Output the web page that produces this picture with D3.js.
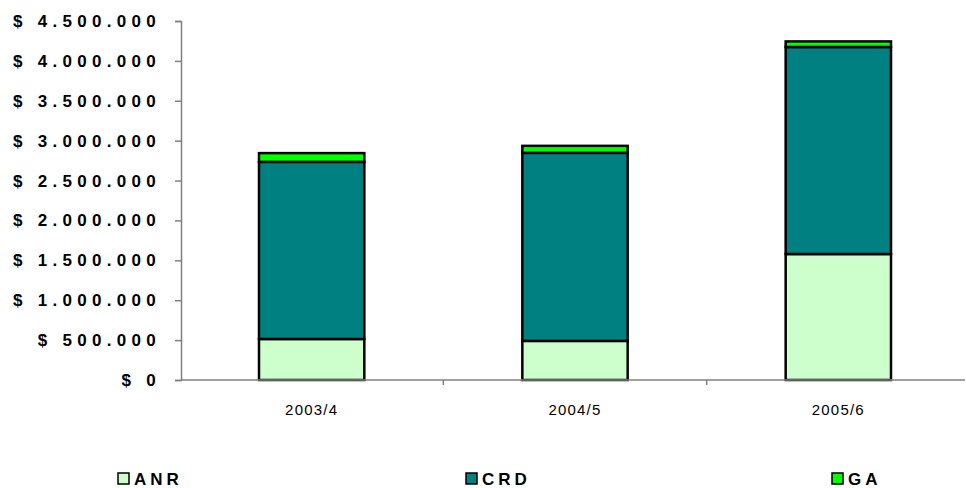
<!DOCTYPE html>
<html>
<head>
<meta charset="utf-8">
<script src="https://cdn.jsdelivr.net/npm/d3@7"></script>
<style>
  body { margin: 0; background: #fff; }
  svg { display: block; font-family: "Liberation Sans", Arial, sans-serif; }
</style>
</head>
<body>
<div id="chart"></div>
<script>
// Datos
const categories = ['2003/4', '2004/5', '2005/6'];
const seriesNames = ['ANR', 'CRD', 'GA'];
const anrValues = [514000, 490000, 1579000];
const crdValues = [2220000, 2357000, 2595000];
const gaValues = [110000, 88000, 70000];
const yTicks = [0, 500000, 1000000, 1500000, 2000000, 2500000, 3000000, 3500000, 4000000, 4500000];

const colors = { ANR: '#ccffcc', CRD: '#008080', GA: '#00ff00' };

const width = 966, height = 488;
const margin = { top: 21, left: 181, bottom: 108 };

const svg = d3.select('#chart').append('svg')
    .attr('width', width)
    .attr('height', height);

// Tabla para el apilado
const table = categories.map((c, i) => ({
    cat: c, ANR: anrValues[i], CRD: crdValues[i], GA: gaValues[i]
}));
const stacked = d3.stack().keys(seriesNames)(table);

const x = d3.scaleBand()
    .domain(categories)
    .range([180, 970])
    .paddingInner(0.6)
    .paddingOuter(0.3);

const y = d3.scaleLinear()
    .domain([0, 4500000])
    .range([380, 21]);

const fmt = v => '$ ' + d3.format(',')(v).replace(/,/g, '.');

// Eje Y
const yAxis = svg.append('g')
    .attr('transform', `translate(${margin.left},0)`)
    .call(d3.axisLeft(y).tickValues(yTicks).tickSize(6).tickPadding(14).tickFormat(fmt));
yAxis.select('.domain').attr('stroke', '#808080').attr('stroke-width', 1.5);
yAxis.selectAll('.tick line').attr('stroke', '#808080').attr('stroke-width', 1.5);
yAxis.selectAll('text')
    .attr('font-size', '17px')
    .attr('font-weight', 'bold')
    .attr('letter-spacing', '5.3px')
    .attr('fill', '#000');

// Barras apiladas
svg.append('g').selectAll('g')
    .data(stacked)
    .enter()
    .append('g')
    .attr('fill', d => colors[d.key])
    .selectAll('rect')
    .data(d => d)
    .enter()
    .append('rect')
    .attr('x', d => x(d.data.cat))
    .attr('width', x.bandwidth())
    .attr('y', d => y(d[1]))
    .attr('height', d => y(d[0]) - y(d[1]))
    .attr('stroke', '#000')
    .attr('stroke-width', 2.5);

// Eje X
const xAxis = svg.append('g')
    .attr('transform', 'translate(0,380)')
    .call(d3.axisBottom(x).tickSize(0).tickPadding(24));
xAxis.select('.domain').remove();
xAxis.selectAll('text')
    .attr('font-size', '15px')
    .attr('letter-spacing', '1.2px')
    .attr('fill', '#000');

svg.append('line')
    .attr('x1', margin.left).attr('x2', 965)
    .attr('y1', 380).attr('y2', 380)
    .attr('stroke', '#808080').attr('stroke-width', 1.5);

// Marcas entre categorías
const gap = (x.step() - x.bandwidth()) / 2;
svg.append('g').selectAll('line')
    .data(categories.slice(1))
    .enter()
    .append('line')
    .attr('x1', d => x(d) - gap).attr('x2', d => x(d) - gap)
    .attr('y1', 380).attr('y2', 385)
    .attr('stroke', '#808080').attr('stroke-width', 1.5);

// Leyenda
const legendX = [118, 466, 832];
const legend = svg.append('g').selectAll('g')
    .data(seriesNames)
    .enter()
    .append('g')
    .attr('transform', (d, i) => `translate(${legendX[i]},473)`);

legend.append('rect')
    .attr('width', 11).attr('height', 11)
    .attr('fill', d => colors[d])
    .attr('stroke', '#000').attr('stroke-width', 1.5);

legend.append('text')
    .attr('x', 16)
    .attr('y', 12)
    .text(d => d)
    .attr('font-size', '17px')
    .attr('font-weight', 'bold')
    .attr('letter-spacing', '4px')
    .attr('fill', '#000');
</script>
</body>
</html>
